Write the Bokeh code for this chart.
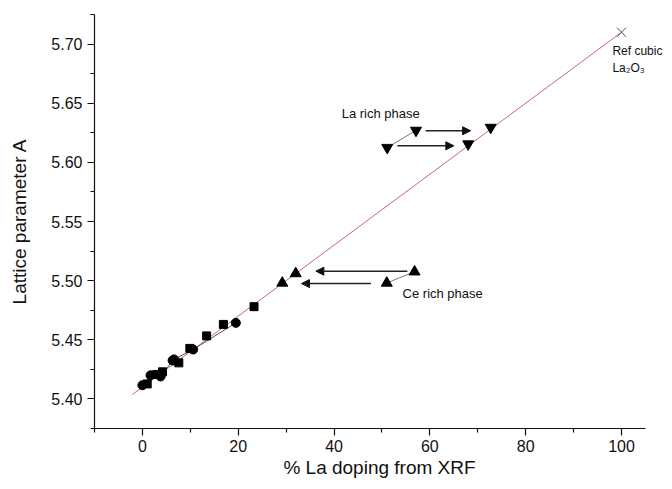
from bokeh.plotting import figure
from bokeh.models import (Range1d, Label, Arrow, NormalHead, ColumnDataSource,
                          FixedTicker, PrintfTickFormatter)
from bokeh.embed import file_html
from bokeh.resources import INLINE

# ---- data ----
sq_x = [1.0, 3.0, 4.2, 7.6, 9.9, 13.4, 16.9, 23.3]
sq_y = [5.4127, 5.4207, 5.4229, 5.4305, 5.4427, 5.4533, 5.4630, 5.4780]

circ_x = [0.0, 1.7, 3.8, 6.3, 6.6, 10.6, 19.5]
circ_y = [5.4116, 5.4200, 5.4190, 5.4325, 5.4334, 5.4418, 5.4643]

# Ce rich phase (up triangles)
up_x = [29.2, 32.0, 51.0, 56.8]
up_y = [5.4980, 5.5060, 5.4980, 5.5075]

# La rich phase (down triangles)
dn_x = [51.1, 57.1, 68.0, 72.7]
dn_y = [5.6125, 5.6270, 5.6155, 5.6295]

# linear fit to reference cubic La2O3
fit_x = [-2.1, 100.0]
fit_y = [5.4037, 5.7100]

ref_x = [100.0]
ref_y = [5.7100]

# arrows
ce_arrow_x0 = [55.3, 47.7]
ce_arrow_x1 = [36.2, 33.2]
ce_arrow_y = [5.5080, 5.4975]
la_arrow_x0 = [59.1, 53.2]
la_arrow_x1 = [68.5, 65.0]
la_arrow_y = [5.6267, 5.6140]

x_major = [0, 20, 40, 60, 80, 100]
x_minor = [-10, 10, 30, 50, 70, 90]
y_major = [5.40, 5.45, 5.50, 5.55, 5.60, 5.65, 5.70]
y_minor = [5.375, 5.425, 5.475, 5.525, 5.575, 5.625, 5.675, 5.725]

FONT = "Liberation Sans"

p = figure(width=664, height=481, output_backend="svg", toolbar_location=None,
           x_range=Range1d(-10, 108.97), y_range=Range1d(5.375, 5.725),
           min_border_left=94, min_border_right=0, min_border_top=14,
           min_border_bottom=53)
p.outline_line_color = None
p.grid.visible = False
p.background_fill_color = "white"

p.xaxis.ticker = FixedTicker(ticks=x_major, minor_ticks=x_minor)
p.yaxis.ticker = FixedTicker(ticks=y_major, minor_ticks=y_minor)
p.yaxis.formatter = PrintfTickFormatter(format="%.2f")
p.xaxis.bounds = (-10, 105)

for ax in (p.xaxis, p.yaxis):
    ax.axis_line_color = "#111111"
    ax.axis_line_width = 1.2
    ax.major_tick_line_color = "#111111"
    ax.minor_tick_line_color = "#111111"
    ax.major_tick_line_width = 1.2
    ax.minor_tick_line_width = 1.2
    ax.major_tick_out = 7
    ax.major_tick_in = 0
    ax.minor_tick_out = 4
    ax.minor_tick_in = 0
    ax.major_label_text_font = FONT
    ax.major_label_text_font_size = "16px"
    ax.major_label_text_color = "#111111"
    ax.axis_label_text_font = FONT
    ax.axis_label_text_font_size = "19px"
    ax.axis_label_text_font_style = "normal"
    ax.axis_label_text_color = "#111111"

p.xaxis.major_label_standoff = 4
p.xaxis.axis_label_standoff = 2
p.yaxis.major_label_standoff = 5
p.yaxis.axis_label_standoff = 18

p.xaxis.axis_label = "% La doping from XRF"
p.yaxis.axis_label = "Lattice parameter A"

# fit line
p.line(fit_x, fit_y, line_color="#c8696e", line_width=1)

# thin grey connectors
p.line(circ_x, circ_y, line_color="#555555", line_width=1)
p.line(up_x[2:4], up_y[2:4], line_color="#777777", line_width=1)
p.line(dn_x[0:2], dn_y[0:2], line_color="#777777", line_width=1)

# markers
p.scatter(sq_x, sq_y, marker="square", size=8, color="black")
p.scatter(circ_x, circ_y, marker="circle", size=9, color="black")
p.scatter(up_x, up_y, marker="triangle", size=11, color="black")
p.scatter(dn_x, dn_y, marker="inverted_triangle", size=11, color="black")
p.scatter(ref_x, ref_y, marker="x", size=13, line_color="#555555", line_width=1)

# arrows
ce_src = ColumnDataSource(dict(x0=ce_arrow_x0, x1=ce_arrow_x1, y=ce_arrow_y))
la_src = ColumnDataSource(dict(x0=la_arrow_x0, x1=la_arrow_x1, y=la_arrow_y))
for src in (ce_src, la_src):
    p.add_layout(Arrow(end=NormalHead(size=8, fill_color="#111111", line_color="#111111"),
                       x_start="x0", y_start="y", x_end="x1", y_end="y",
                       line_color="#222222", line_width=1.5, source=src))

# annotations
def lab(x, y, t, size="13px"):
    p.add_layout(Label(x=x, y=y, text=t, text_font=FONT, text_font_size=size,
                       text_color="#111111", text_align="left", text_baseline="middle"))

lab(41.6, 5.641, "La rich phase")
lab(54.3, 5.4889, "Ce rich phase")
lab(98.1, 5.6941, "Ref cubic", "12px")
lab(98.1, 5.6798, "La\u2082O\u2083", "12px")

open("out.html", "w").write(file_html(p, INLINE))
